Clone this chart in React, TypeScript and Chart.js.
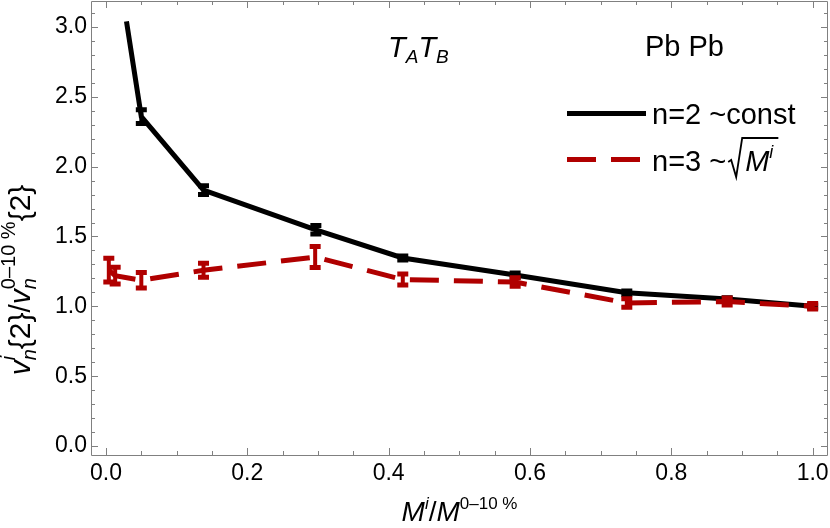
import React, { useEffect, useRef } from "react";
import { Chart, registerables } from "chart.js";

Chart.register(...registerables);

// ---- data ----
const n2X = [0.029, 0.05, 0.138, 0.297, 0.42, 0.579, 0.737, 0.879, 1.0];
const n2Y = [3.04, 2.358, 1.832, 1.548, 1.346, 1.224, 1.097, 1.052, 1.0];
const n2Err = [0, 0.049, 0.031, 0.03, 0.015, 0.015, 0.012, 0.01, 0.01];

const n3X = [0.004, 0.013, 0.05, 0.138, 0.296, 0.42, 0.579, 0.737, 0.879, 1.0];
const n3Y = [1.26, 1.22, 1.187, 1.258, 1.353, 1.192, 1.174, 1.024, 1.034, 1.0];
const n3Err = [0.085, 0.06, 0.055, 0.05, 0.075, 0.04, 0.03, 0.03, 0.025, 0.02];

const xMajorTicks = [0, 0.2, 0.4, 0.6, 0.8, 1.0];
const yMajorTicks = [0, 0.5, 1.0, 1.5, 2.0, 2.5, 3.0];
const xMinorTicks = [0.05, 0.1, 0.15, 0.25, 0.3, 0.35, 0.45, 0.5, 0.55, 0.65, 0.7, 0.75, 0.85, 0.9, 0.95];
const yMinorTicks = [0.1, 0.2, 0.3, 0.4, 0.6, 0.7, 0.8, 0.9, 1.1, 1.2, 1.3, 1.4, 1.6, 1.7, 1.8, 1.9, 2.1, 2.2, 2.3, 2.4, 2.6, 2.7, 2.8, 2.9, 3.1];

const X_MIN = -0.0212;
const X_MAX = 1.0217;
const Y_MIN = -0.0644;
const Y_MAX = 3.186;

const FONT = "'Liberation Sans', Arial, Helvetica, sans-serif";
const RED = "#B00000";
const BLACK = "#000000";
const FRAME = "#808080";

type Run = { t: string; size: number; italic?: boolean; dy?: number };
type Stack = { sup?: Run; sub?: Run };
type Seg = Run | Stack;

function fontOf(r: Run) {
  return `${r.italic ? "italic " : ""}${r.size}px ${FONT}`;
}
function runW(ctx: CanvasRenderingContext2D, r: Run) {
  ctx.font = fontOf(r);
  return ctx.measureText(r.t).width;
}
function segW(ctx: CanvasRenderingContext2D, s: Seg): number {
  if ("t" in s) return runW(ctx, s as Run);
  const st = s as Stack;
  return Math.max(st.sup ? runW(ctx, st.sup) : 0, st.sub ? runW(ctx, st.sub) : 0);
}
function richW(ctx: CanvasRenderingContext2D, segs: Seg[]) {
  return segs.reduce((a, s) => a + segW(ctx, s), 0);
}
function drawRich(ctx: CanvasRenderingContext2D, segs: Seg[], x: number, y: number) {
  let cx = x;
  ctx.textAlign = "left";
  ctx.textBaseline = "alphabetic";
  for (const s of segs) {
    if ("t" in s) {
      const r = s as Run;
      ctx.font = fontOf(r);
      ctx.fillText(r.t, cx, y + (r.dy || 0));
      cx += ctx.measureText(r.t).width;
    } else {
      const st = s as Stack;
      const w = segW(ctx, st);
      if (st.sup) {
        ctx.font = fontOf(st.sup);
        ctx.fillText(st.sup.t, cx, y + (st.sup.dy || 0));
      }
      if (st.sub) {
        ctx.font = fontOf(st.sub);
        ctx.fillText(st.sub.t, cx, y + (st.sub.dy || 0));
      }
      cx += w;
    }
  }
  return cx - x;
}

const errorSets = [
  { xs: n3X, ys: n3Y, es: n3Err, color: RED },
  { xs: n2X, ys: n2Y, es: n2Err, color: BLACK },
];

const overlayPlugin = {
  id: "overlay",
  afterDatasetDraw(chart: any, args: any) {
    const set = errorSets[args.index];
    if (!set) return;
    const ctx: CanvasRenderingContext2D = chart.ctx;
    const xs = chart.scales.x;
    const ys = chart.scales.y;
    ctx.save();
    ctx.strokeStyle = set.color;
    ctx.lineCap = "butt";
    for (let i = 0; i < set.xs.length; i++) {
      const e = set.es[i];
      if (!e) continue;
      const px = xs.getPixelForValue(set.xs[i]);
      const pTop = ys.getPixelForValue(set.ys[i] + e);
      const pBot = ys.getPixelForValue(set.ys[i] - e);
      ctx.lineWidth = 4;
      ctx.beginPath();
      ctx.moveTo(px, pTop);
      ctx.lineTo(px, pBot);
      ctx.stroke();
      ctx.lineWidth = 5;
      ctx.beginPath();
      ctx.moveTo(px - 5.5, pTop);
      ctx.lineTo(px + 5.5, pTop);
      ctx.moveTo(px - 5.5, pBot);
      ctx.lineTo(px + 5.5, pBot);
      ctx.stroke();
    }
    ctx.restore();
  },
  afterDraw(chart: any) {
    const ctx: CanvasRenderingContext2D = chart.ctx;
    const { left, right, top, bottom } = chart.chartArea;
    const xs = chart.scales.x;
    const ys = chart.scales.y;
    ctx.save();
    // frame
    ctx.strokeStyle = FRAME;
    ctx.lineWidth = 1;
    ctx.beginPath();
    ctx.rect(Math.round(left) + 0.5, Math.round(top) + 0.5, Math.round(right) - Math.round(left) - 1, Math.round(bottom) - Math.round(top));
    ctx.stroke();
    // ticks
    const tickX = (v: number, len: number) => {
      const px = Math.round(xs.getPixelForValue(v)) + 0.5;
      ctx.moveTo(px, bottom);
      ctx.lineTo(px, bottom - len);
      ctx.moveTo(px, top);
      ctx.lineTo(px, top + len);
    };
    const tickY = (v: number, len: number) => {
      const py = Math.round(ys.getPixelForValue(v)) + 0.5;
      ctx.moveTo(left, py);
      ctx.lineTo(left + len, py);
      ctx.moveTo(right, py);
      ctx.lineTo(right - len, py);
    };
    ctx.beginPath();
    xMajorTicks.forEach((v) => tickX(v, 7));
    xMinorTicks.forEach((v) => tickX(v, 4));
    yMajorTicks.forEach((v) => tickY(v, 7));
    yMinorTicks.forEach((v) => tickY(v, 4));
    ctx.stroke();

    ctx.fillStyle = "#000";
    // x-axis title
    const xTitle: Seg[] = [
      { t: "M", size: 28, italic: true },
      { sup: { t: "i", size: 17, italic: true, dy: -12 } },
      { t: "/", size: 28 },
      { t: "M", size: 28, italic: true },
      { sup: { t: "0\u201310 %", size: 17, dy: -12 } },
    ];
    const xw = richW(ctx, xTitle);
    drawRich(ctx, xTitle, (left + right) / 2 - xw / 2, 521);

    // y-axis title (rotated)
    const yTitle: Seg[] = [
      { t: "v", size: 30, italic: true },
      { sup: { t: "i", size: 20, italic: true, dy: -15 }, sub: { t: "n", size: 20, italic: true, dy: 6 } },
      { t: "{2}/", size: 30 },
      { t: "v", size: 30, italic: true },
      { sup: { t: "0\u201310 %", size: 20, dy: -15 }, sub: { t: "n", size: 20, italic: true, dy: 6 } },
      { t: "{2}", size: 30 },
    ];
    const yw = richW(ctx, yTitle);
    ctx.save();
    ctx.translate(30, 280);
    ctx.rotate(-Math.PI / 2);
    drawRich(ctx, yTitle, -yw / 2, 0);
    ctx.restore();

    // annotations
    drawRich(
      ctx,
      [
        { t: "T", size: 29, italic: true },
        { sub: { t: "A", size: 19, italic: true, dy: 6 } },
        { t: "T", size: 29, italic: true },
        { sub: { t: "B", size: 19, italic: true, dy: 6 } },
      ],
      388,
      57
    );
    drawRich(ctx, [{ t: "Pb Pb", size: 29 }], 645, 56);

    // legend
    ctx.lineCap = "butt";
    ctx.strokeStyle = BLACK;
    ctx.lineWidth = 5;
    ctx.beginPath();
    ctx.moveTo(567, 113.5);
    ctx.lineTo(646, 113.5);
    ctx.stroke();
    drawRich(ctx, [{ t: "n=2 ~const", size: 29 }], 652, 124);

    ctx.strokeStyle = RED;
    ctx.setLineDash([29, 15]);
    ctx.beginPath();
    ctx.moveTo(567, 159.5);
    ctx.lineTo(640, 159.5);
    ctx.stroke();
    ctx.setLineDash([]);
    const base = 171;
    const w0 = drawRich(ctx, [{ t: "n=3 ~", size: 29 }], 652, base);
    const r0 = 652 + w0 + 2;
    const inner: Seg[] = [
      { t: "M", size: 29, italic: true },
      { sup: { t: "i", size: 18, italic: true, dy: -13 } },
    ];
    const iw = richW(ctx, inner);
    ctx.strokeStyle = "#000";
    ctx.lineWidth = 1.8;
    ctx.lineJoin = "miter";
    ctx.beginPath();
    ctx.moveTo(r0, base - 9);
    ctx.lineTo(r0 + 3, base - 11);
    ctx.lineTo(r0 + 8, base + 6);
    ctx.lineTo(r0 + 14, base - 33);
    ctx.lineTo(r0 + 14 + iw + 8, base - 33);
    ctx.stroke();
    drawRich(ctx, inner, r0 + 17, base);

    ctx.restore();
  },
};

const zeroPad = (s: any) => {
  s.paddingTop = 0;
  s.paddingBottom = 0;
  s.paddingLeft = 0;
  s.paddingRight = 0;
};

export default function App() {
  const canvasRef = useRef<HTMLCanvasElement | null>(null);

  useEffect(() => {
    if (!canvasRef.current) return;
    const chart = new Chart(canvasRef.current, {
      type: "line",
      data: {
        datasets: [
          {
            label: "n=3",
            data: n3X.map((x, i) => ({ x, y: n3Y[i] })),
            borderColor: RED,
            borderWidth: 5,
            borderDash: [29, 15],
            borderCapStyle: "butt",
            borderJoinStyle: "miter",
            pointRadius: 0,
            tension: 0,
            fill: false,
            order: 0,
          },
          {
            label: "n=2",
            data: n2X.map((x, i) => ({ x, y: n2Y[i] })),
            borderColor: BLACK,
            borderWidth: 5,
            borderCapStyle: "butt",
            borderJoinStyle: "miter",
            pointRadius: 0,
            tension: 0,
            fill: false,
            order: 1,
          },
        ],
      },
      options: {
        animation: false,
        responsive: false,
        maintainAspectRatio: false,
        layout: { padding: { top: 1, right: 2, left: 0, bottom: 0 } },
        plugins: { legend: { display: false }, tooltip: { enabled: false } },
        scales: {
          x: {
            type: "linear",
            min: X_MIN,
            max: X_MAX,
            grid: { display: false, drawTicks: false },
            border: { display: false },
            afterBuildTicks: (s: any) => {
              s.ticks = xMajorTicks.map((v) => ({ value: v }));
            },
            afterFit: (s: any) => {
              s.height = 73;
              zeroPad(s);
            },
            ticks: {
              color: "#000",
              padding: 5,
              maxRotation: 0,
              autoSkip: false,
              font: { size: 23, family: FONT },
              callback: (v: any) => Number(v).toFixed(1),
            },
          },
          y: {
            type: "linear",
            min: Y_MIN,
            max: Y_MAX,
            grid: { display: false, drawTicks: false },
            border: { display: false },
            afterBuildTicks: (s: any) => {
              s.ticks = yMajorTicks.map((v) => ({ value: v }));
            },
            afterFit: (s: any) => {
              s.width = 91;
              zeroPad(s);
            },
            ticks: {
              color: "#000",
              padding: 4,
              autoSkip: false,
              font: { size: 23, family: FONT },
              callback: (v: any) => Number(v).toFixed(1),
            },
          },
        },
      },
      plugins: [overlayPlugin],
    } as any);
    return () => chart.destroy();
  }, []);

  return (
    <div style={{ position: "absolute", left: 0, top: 0, width: 830, height: 528, background: "#fff" }}>
      <canvas ref={canvasRef} width={830} height={528} style={{ display: "block" }} />
    </div>
  );
}
